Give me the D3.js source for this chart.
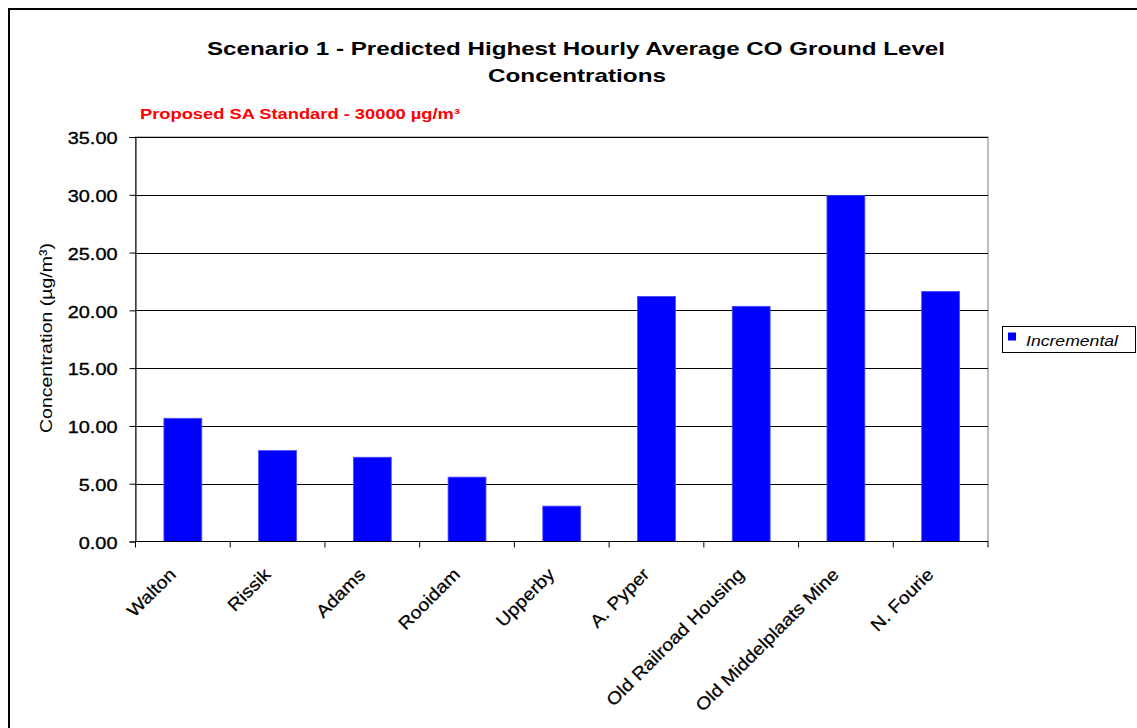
<!DOCTYPE html>
<html>
<head>
<meta charset="utf-8">
<script src="https://cdn.jsdelivr.net/npm/d3@7"></script>
<style>
  html, body { margin: 0; padding: 0; background: #fff; }
  svg { display: block; }
  text { font-family: "Liberation Sans", Arial, sans-serif; }
</style>
</head>
<body>
<script>
// Receptor sites along the x axis
const sites = ["Walton", "Rissik", "Adams", "Rooidam", "Upperby", "A. Pyper",
  "Old Railroad Housing", "Old Middelplaats Mine", "N. Fourie"];
// Incremental CO concentration (µg/m³) at each site
const incremental = [10.66, 7.87, 7.29, 5.57, 3.06, 21.21, 20.35, 29.95, 21.64];
// Y-axis tick values
const yTicks = [0, 5, 10, 15, 20, 25, 30, 35];
const seriesName = "Incremental";

const W = 1137, H = 728;
const plot = { left: 135.5, right: 988, top: 137, bottom: 541.5 };

const svg = d3.select("body").append("svg").attr("width", W).attr("height", H);

// Widen text horizontally by a factor, keeping glyph heights
function stretch(sel, f) {
  sel.each(function () {
    const n = this.getComputedTextLength();
    d3.select(this).attr("textLength", n * f).attr("lengthAdjust", "spacingAndGlyphs");
  });
}

// Chart frame
svg.append("rect").attr("x", 9).attr("y", 9).attr("width", 1140).attr("height", 740)
  .attr("fill", "#fff").attr("stroke", "#000").attr("stroke-width", 2);

// Title
const title = svg.append("text").attr("text-anchor", "middle")
  .attr("font-weight", "bold").attr("font-size", 19).attr("fill", "#000");
title.append("tspan").attr("x", 576).attr("y", 55)
  .attr("textLength", 738).attr("lengthAdjust", "spacingAndGlyphs")
  .text("Scenario 1 - Predicted Highest Hourly Average CO Ground Level");
title.append("tspan").attr("x", 577).attr("y", 82)
  .attr("textLength", 178).attr("lengthAdjust", "spacingAndGlyphs")
  .text("Concentrations");

// Standard annotation
svg.append("text").attr("x", 140).attr("y", 119)
  .attr("font-weight", "bold").attr("font-size", 15).attr("fill", "#ff0000")
  .attr("textLength", 320).attr("lengthAdjust", "spacingAndGlyphs")
  .text("Proposed SA Standard - 30000 µg/m³");

const x = d3.scaleBand().domain(sites).range([plot.left, plot.right])
  .paddingInner(0.6).paddingOuter(0.3);
const y = d3.scaleLinear().domain([0, 35]).range([plot.bottom, plot.top]);

// Plot area border
svg.append("rect").attr("x", plot.left).attr("y", plot.top)
  .attr("width", plot.right - plot.left).attr("height", plot.bottom - plot.top)
  .attr("fill", "#fff").attr("stroke", "#808080").attr("stroke-width", 1);

// Gridlines
svg.append("g").selectAll("line").data(yTicks.filter(d => d > 0)).join("line")
  .attr("x1", plot.left).attr("x2", plot.right)
  .attr("y1", d => Math.round(y(d)) + 0.5).attr("y2", d => Math.round(y(d)) + 0.5)
  .attr("stroke", "#000").attr("stroke-width", 1);

// Bars
svg.append("g").selectAll("rect").data(incremental).join("rect")
  .attr("x", (d, i) => x(sites[i]))
  .attr("y", d => y(d))
  .attr("width", x.bandwidth())
  .attr("height", d => y(0) - y(d))
  .attr("fill", "#0000ff").attr("stroke", "#4d4dff").attr("stroke-width", 0.8);

// Y axis
const yAxis = svg.append("g").attr("transform", `translate(${plot.left},0)`)
  .call(d3.axisLeft(y).tickValues(yTicks).tickFormat(d3.format(".2f")).tickSize(6).tickPadding(12));
yAxis.select(".domain").attr("stroke", "#000");
yAxis.selectAll(".tick line").attr("stroke", "#000");
yAxis.selectAll(".tick text").attr("font-size", 17).attr("fill", "#000")
  .attr("font-family", "Liberation Sans, Arial, sans-serif")
  .attr("stroke", "#000").attr("stroke-width", 0.35).attr("dy", "0.4em")
  .call(stretch, 1.17);

// X axis: ticks at category boundaries
const step = x.step();
const bounds = sites.map(s => x(s) - step * 0.3).concat([plot.right]);
svg.append("line").attr("x1", plot.left).attr("x2", plot.right)
  .attr("y1", plot.bottom).attr("y2", plot.bottom).attr("stroke", "#000");
svg.append("g").selectAll("line").data(bounds).join("line")
  .attr("x1", d => d).attr("x2", d => d)
  .attr("y1", plot.bottom).attr("y2", plot.bottom + 6).attr("stroke", "#000");

// X category labels
svg.append("g").selectAll("text").data(sites).join("text")
  .attr("transform", d => `translate(${x(d) + x.bandwidth() / 2 - 6},${plot.bottom + 34}) rotate(-45)`)
  .attr("text-anchor", "end").attr("font-size", 17.5)
  .attr("fill", "#000").attr("stroke", "#000").attr("stroke-width", 0.25)
  .text(d => d)
  .call(stretch, 1.12);

// Y axis title
svg.append("text").attr("transform", `translate(52,338) rotate(-90)`)
  .attr("text-anchor", "middle").attr("font-size", 17).attr("fill", "#000")
  .attr("textLength", 190).attr("lengthAdjust", "spacingAndGlyphs")
  .text("Concentration (µg/m³)");

// Legend
const lg = svg.append("g");
lg.append("rect").attr("x", 1002.5).attr("y", 326.5).attr("width", 133).attr("height", 26)
  .attr("fill", "#fff").attr("stroke", "#000");
lg.append("rect").attr("x", 1008).attr("y", 332.5).attr("width", 8).attr("height", 8)
  .attr("fill", "#0000ff");
lg.append("text").attr("x", 1026).attr("y", 346).attr("font-style", "italic")
  .attr("font-size", 15).attr("fill", "#000")
  .attr("textLength", 92).attr("lengthAdjust", "spacingAndGlyphs")
  .text(seriesName);
</script>
</body>
</html>
